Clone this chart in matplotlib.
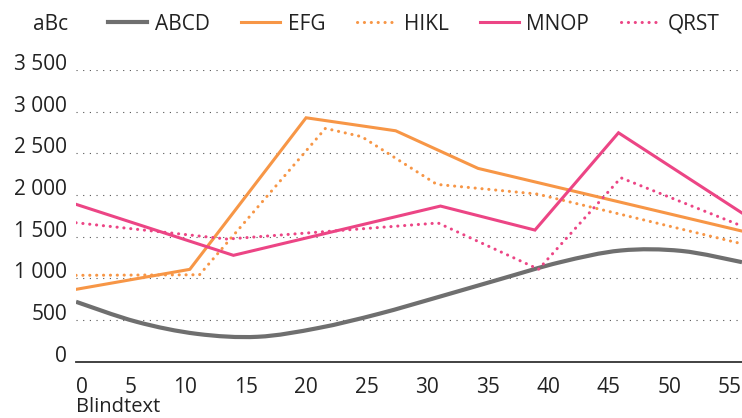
import matplotlib
matplotlib.use("Agg")
import matplotlib.pyplot as plt
import numpy as np
from matplotlib.path import Path
from matplotlib.patches import PathPatch
from matplotlib.lines import Line2D

plt.rcParams['font.family'] = ['Open Sans', 'DejaVu Sans']

# ---- data ----
abcd_x = [0, 5, 10, 15, 20, 25, 30, 35, 40, 45, 50, 55]
abcd_y = [720, 480, 335, 300, 405, 575, 780, 990, 1195, 1335, 1330, 1195]

efg_x = [0, 9.4, 19.0, 26.4, 33.2, 55]
efg_y = [869, 1109, 2927, 2771, 2320, 1568]

hikl_x = [0, 10.2, 20.6, 23.6, 29.8, 38.1, 55]
hikl_y = [1037, 1044, 2800, 2700, 2128, 2012, 1415]

mnop_x = [0, 13.0, 30.1, 37.9, 44.8, 55]
mnop_y = [1889, 1277, 1868, 1580, 2747, 1785]

qrst_x = [0, 12.5, 29.9, 38.2, 45.0, 55]
qrst_y = [1668, 1472, 1665, 1110, 2207, 1628]

series_names = ['ABCD', 'EFG', 'HIKL', 'MNOP', 'QRST']
x_ticks = [0, 5, 10, 15, 20, 25, 30, 35, 40, 45, 50, 55]
y_ticks = [0, 500, 1000, 1500, 2000, 2500, 3000, 3500]
y_tick_labels = ['0', '500', '1 000', '1 500', '2 000', '2 500', '3 000', '3 500']
legend_title = 'aBc'
x_label = 'Blindtext'

GRAY = '#6f6f6f'
ORANGE = '#f79646'
PINK = '#ec4585'

W, H = 742, 418
fig = plt.figure(figsize=(W / 100, H / 100), dpi=100)
ax = fig.add_axes([76 / W, (H - 361.8) / H, 1 - 76 / W, (361.8 - 70) / H])

ax.set_xlim(0, 55)
ax.set_ylim(0, 3500)

# grid lines (dotted), except zero
for v in y_ticks[1:]:
    ax.axhline(v, color='#555555', lw=0.8, linestyle=(0, (1.0, 5.0)), zorder=1)
ax.axhline(0, color='#333333', lw=1.3, zorder=2, clip_on=False)

# smooth ABCD curve (Catmull-Rom -> Bezier)
pts = np.column_stack([abcd_x, abcd_y]).astype(float)
verts = [tuple(pts[0])]
codes = [Path.MOVETO]
n = len(pts)
for i in range(n - 1):
    p0 = pts[i - 1] if i > 0 else pts[i]
    p1 = pts[i]
    p2 = pts[i + 1]
    p3 = pts[i + 2] if i + 2 < n else pts[i + 1]
    c1 = p1 + (p2 - p0) / 6.0
    c2 = p2 - (p3 - p1) / 6.0
    verts += [tuple(c1), tuple(c2), tuple(p2)]
    codes += [Path.CURVE4] * 3
patch = PathPatch(Path(verts, codes), fill=False, edgecolor=GRAY, lw=3.0,
                  capstyle='butt', zorder=3)
ax.add_patch(patch)

dot = (0, (0.05, 2.2))
l_efg, = ax.plot(efg_x, efg_y, color=ORANGE, lw=2.2, zorder=4, solid_joinstyle='miter')
l_hikl, = ax.plot(hikl_x, hikl_y, color=ORANGE, lw=2.2, linestyle=dot,
                  dash_capstyle='round', zorder=4)
l_mnop, = ax.plot(mnop_x, mnop_y, color=PINK, lw=2.2, zorder=4, solid_joinstyle='miter')
l_qrst, = ax.plot(qrst_x, qrst_y, color=PINK, lw=2.2, linestyle=dot,
                  dash_capstyle='round', zorder=4)

proxy = Line2D([], [], color=GRAY, lw=3.0)
handles = [proxy, l_efg, l_hikl, l_mnop, l_qrst]
ax.legend(handles, series_names, ncol=5, frameon=False, loc='center left',
          bbox_to_anchor=(108 / W, 1 - 24 / H), bbox_transform=fig.transFigure,
          borderpad=0, borderaxespad=0, handlelength=1.87, handletextpad=0.38,
          columnspacing=1.5, fontsize=15, labelcolor='#222222')

fig.text(33 / W, 1 - 24 / H, legend_title, fontsize=15, ha='left', va='center',
         color='#222222')

# spines
for s in ['top', 'right', 'left', 'bottom']:
    ax.spines[s].set_visible(False)

ax.set_yticks(y_ticks)
ax.set_yticklabels(y_tick_labels)
ax.set_xticks(x_ticks)
ax.set_xticklabels([str(t) for t in x_ticks])
ax.tick_params(axis='both', length=0, labelsize=15, labelcolor='#222222')
ax.tick_params(axis='y', pad=6.5)
ax.tick_params(axis='x', pad=11)
for lab in ax.get_yticklabels():
    lab.set_va('baseline')
for i, lab in enumerate(ax.get_xticklabels()):
    lab.set_ha('left' if i == 0 else 'right')

ax.set_xlabel(x_label, fontsize=14.5, color='#222222')
ax.xaxis.set_label_coords(0, -(417.0 - 361.8) / (361.8 - 70))
ax.xaxis.label.set_ha('left')
ax.xaxis.label.set_va('bottom')

fig.savefig('out.png', dpi=100)
